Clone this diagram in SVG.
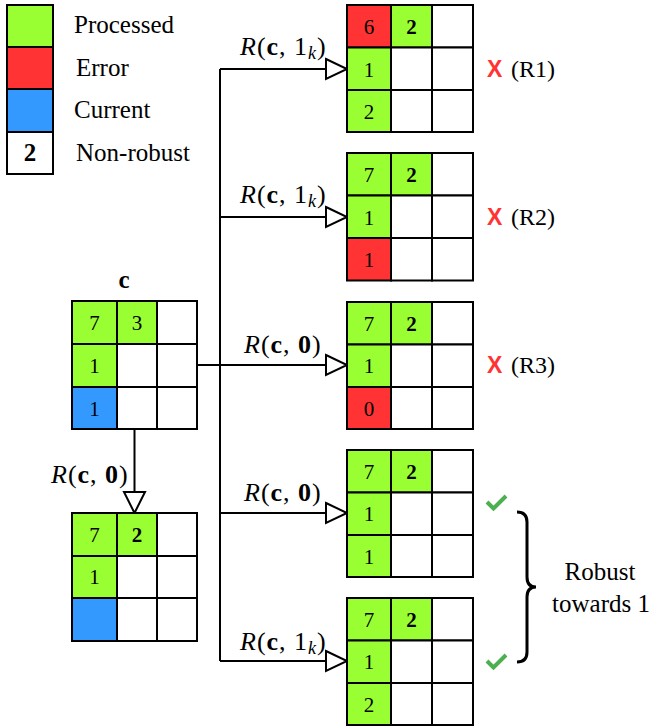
<svg xmlns="http://www.w3.org/2000/svg" width="652" height="726" viewBox="0 0 652 726">
<style>
.c{stroke:#000;stroke-width:2}
.g{fill:#99ff33}
.r{fill:#ff3333}
.b{fill:#3399ff}
.w{fill:#fff}
.t{font-family:'Liberation Serif','Times New Roman',serif;font-size:25px;fill:#000}
.s{font-family:'Liberation Serif','Times New Roman',serif;font-size:24px;fill:#000}
.n{font-family:'Liberation Serif','Times New Roman',serif;font-size:21px;fill:#000;text-anchor:middle}
.bd{font-weight:bold}
.m{font-family:'Liberation Serif','Times New Roman',serif;font-size:26px;fill:#000;letter-spacing:1px}
.ln{stroke:#000;stroke-width:2;fill:none}
.ah{fill:#fff;stroke:#000;stroke-width:2;stroke-linejoin:miter}
.x{font-family:'Liberation Sans',Arial,sans-serif;font-weight:bold;font-size:23px;fill:#ff3333}
.ck{stroke:#4caf50;stroke-width:4;fill:none;stroke-linecap:butt;stroke-linejoin:miter}
</style>

<g id="legend">
<rect class="c g" x="7" y="5" width="46" height="42"/>
<rect class="c r" x="7" y="47" width="46" height="42"/>
<rect class="c b" x="7" y="89" width="46" height="43"/>
<rect class="c w" x="7" y="132" width="46" height="42"/>
<text class="t bd" x="30" y="161" text-anchor="middle">2</text>
<text class="t" x="74" y="33">Processed</text>
<text class="t" x="76" y="76">Error</text>
<text class="t" x="74" y="118">Current</text>
<text class="t" x="76" y="161">Non-robust</text>
</g>

<g id="connectors">
<path class="ln" d="M197,365 H220"/>
<path class="ln" d="M220,69 V661"/>
<path class="ln" d="M220,69 H327"/>
<path class="ln" d="M220,217 H327"/>
<path class="ln" d="M220,365 H327"/>
<path class="ln" d="M220,513 H327"/>
<path class="ln" d="M220,661 H327"/>
<polygon class="ah" points="326,59 347,69 326,79"/>
<polygon class="ah" points="326,207 347,217 326,227"/>
<polygon class="ah" points="326,355 347,365 326,375"/>
<polygon class="ah" points="326,503 347,513 326,523"/>
<polygon class="ah" points="326,651 347,661 326,671"/>
<path class="ln" d="M134.5,429 V492"/>
<polygon class="ah" points="124,492 145,492 134.5,513"/>
<text class="m" x="240" y="55"><tspan font-style="italic">R</tspan>(<tspan font-weight="bold">c</tspan>, 1<tspan font-style="italic" font-size="18" dy="4">k</tspan><tspan dy="-4">)</tspan></text>
<text class="m" x="240" y="203"><tspan font-style="italic">R</tspan>(<tspan font-weight="bold">c</tspan>, 1<tspan font-style="italic" font-size="18" dy="4">k</tspan><tspan dy="-4">)</tspan></text>
<text class="m" x="244" y="353"><tspan font-style="italic">R</tspan>(<tspan font-weight="bold">c</tspan>, <tspan font-weight="bold">0</tspan>)</text>
<text class="m" x="244" y="501"><tspan font-style="italic">R</tspan>(<tspan font-weight="bold">c</tspan>, <tspan font-weight="bold">0</tspan>)</text>
<text class="m" x="240" y="650"><tspan font-style="italic">R</tspan>(<tspan font-weight="bold">c</tspan>, 1<tspan font-style="italic" font-size="18" dy="4">k</tspan><tspan dy="-4">)</tspan></text>
<text class="m" x="51" y="483"><tspan font-style="italic">R</tspan>(<tspan font-weight="bold">c</tspan>, <tspan font-weight="bold">0</tspan>)</text>
</g>

<g id="node-c">
<text class="t bd" x="124" y="288" text-anchor="middle">c</text>
<rect class="c g" x="72" y="301" width="45" height="43"/>
<rect class="c g" x="117" y="301" width="40" height="43"/>
<rect class="c w" x="157" y="301" width="40" height="43"/>
<rect class="c g" x="72" y="344" width="45" height="43"/>
<rect class="c w" x="117" y="344" width="40" height="43"/>
<rect class="c w" x="157" y="344" width="40" height="43"/>
<rect class="c b" x="72" y="387" width="45" height="42"/>
<rect class="c w" x="117" y="387" width="40" height="42"/>
<rect class="c w" x="157" y="387" width="40" height="42"/>
<text class="n" x="94.5" y="330">7</text>
<text class="n" x="137" y="330">3</text>
<text class="n" x="94.5" y="373">1</text>
<text class="n" x="94.5" y="416">1</text>
</g>

<g id="node-c0">
<rect class="c g" x="72" y="513" width="45" height="43"/>
<rect class="c g" x="117" y="513" width="40" height="43"/>
<rect class="c w" x="157" y="513" width="40" height="43"/>
<rect class="c g" x="72" y="556" width="45" height="42"/>
<rect class="c w" x="117" y="556" width="40" height="42"/>
<rect class="c w" x="157" y="556" width="40" height="42"/>
<rect class="c b" x="72" y="598" width="45" height="43"/>
<rect class="c w" x="117" y="598" width="40" height="43"/>
<rect class="c w" x="157" y="598" width="40" height="43"/>
<text class="n" x="94.5" y="542">7</text>
<text class="n bd" x="137" y="542">2</text>
<text class="n" x="94.5" y="584">1</text>
</g>

<g id="node-r1">
<rect class="c r" x="347" y="5" width="44" height="42.5"/>
<rect class="c g" x="391" y="5" width="41" height="42.5"/>
<rect class="c w" x="432" y="5" width="41" height="42.5"/>
<rect class="c g" x="347" y="47.5" width="44" height="42.5"/>
<rect class="c w" x="391" y="47.5" width="41" height="42.5"/>
<rect class="c w" x="432" y="47.5" width="41" height="42.5"/>
<rect class="c g" x="347" y="90" width="44" height="42"/>
<rect class="c w" x="391" y="90" width="41" height="42"/>
<rect class="c w" x="432" y="90" width="41" height="42"/>
<text class="n" x="369" y="34">6</text>
<text class="n bd" x="411.5" y="34">2</text>
<text class="n" x="369" y="77">1</text>
<text class="n" x="369" y="119">2</text>
</g>

<g id="node-r2">
<rect class="c g" x="347" y="153" width="44" height="42.5"/>
<rect class="c g" x="391" y="153" width="41" height="42.5"/>
<rect class="c w" x="432" y="153" width="41" height="42.5"/>
<rect class="c g" x="347" y="195.5" width="44" height="42.5"/>
<rect class="c w" x="391" y="195.5" width="41" height="42.5"/>
<rect class="c w" x="432" y="195.5" width="41" height="42.5"/>
<rect class="c r" x="347" y="238" width="44" height="42.5"/>
<rect class="c w" x="391" y="238" width="41" height="42.5"/>
<rect class="c w" x="432" y="238" width="41" height="42.5"/>
<text class="n" x="369" y="182">7</text>
<text class="n bd" x="411.5" y="182">2</text>
<text class="n" x="369" y="225">1</text>
<text class="n" x="369" y="267">1</text>
</g>

<g id="node-r3">
<rect class="c g" x="347" y="302" width="44" height="42.5"/>
<rect class="c g" x="391" y="302" width="41" height="42.5"/>
<rect class="c w" x="432" y="302" width="41" height="42.5"/>
<rect class="c g" x="347" y="344.5" width="44" height="42.5"/>
<rect class="c w" x="391" y="344.5" width="41" height="42.5"/>
<rect class="c w" x="432" y="344.5" width="41" height="42.5"/>
<rect class="c r" x="347" y="387" width="44" height="42"/>
<rect class="c w" x="391" y="387" width="41" height="42"/>
<rect class="c w" x="432" y="387" width="41" height="42"/>
<text class="n" x="369" y="331">7</text>
<text class="n bd" x="411.5" y="331">2</text>
<text class="n" x="369" y="373">1</text>
<text class="n" x="369" y="416">0</text>
</g>

<g id="node-r4">
<rect class="c g" x="347" y="450" width="44" height="42.5"/>
<rect class="c g" x="391" y="450" width="41" height="42.5"/>
<rect class="c w" x="432" y="450" width="41" height="42.5"/>
<rect class="c g" x="347" y="492.5" width="44" height="42.5"/>
<rect class="c w" x="391" y="492.5" width="41" height="42.5"/>
<rect class="c w" x="432" y="492.5" width="41" height="42.5"/>
<rect class="c g" x="347" y="535" width="44" height="42"/>
<rect class="c w" x="391" y="535" width="41" height="42"/>
<rect class="c w" x="432" y="535" width="41" height="42"/>
<text class="n" x="369" y="479">7</text>
<text class="n bd" x="411.5" y="479">2</text>
<text class="n" x="369" y="521">1</text>
<text class="n" x="369" y="564">1</text>
</g>

<g id="node-r5">
<rect class="c g" x="347" y="598" width="44" height="42.5"/>
<rect class="c g" x="391" y="598" width="41" height="42.5"/>
<rect class="c w" x="432" y="598" width="41" height="42.5"/>
<rect class="c g" x="347" y="640.5" width="44" height="42.5"/>
<rect class="c w" x="391" y="640.5" width="41" height="42.5"/>
<rect class="c w" x="432" y="640.5" width="41" height="42.5"/>
<rect class="c g" x="347" y="683" width="44" height="42"/>
<rect class="c w" x="391" y="683" width="41" height="42"/>
<rect class="c w" x="432" y="683" width="41" height="42"/>
<text class="n" x="369" y="627">7</text>
<text class="n bd" x="411.5" y="627">2</text>
<text class="n" x="369" y="669">1</text>
<text class="n" x="369" y="712">2</text>
</g>

<g id="annotations">
<text class="x" x="487" y="77">X</text>
<text class="s" x="511" y="77">(R1)</text>
<text class="x" x="487" y="225">X</text>
<text class="s" x="511" y="225">(R2)</text>
<text class="x" x="487" y="373">X</text>
<text class="s" x="511" y="373">(R3)</text>
<path class="ck" d="M487,502 L493.5,508.5 L506,496"/>
<path class="ck" d="M487,661 L493.5,667.5 L506,655"/>
<path d="M517,512 Q527,512 527,522 L527,577 Q527,587 536,587 Q527,587 527,597 L527,652 Q527,662 517,662" fill="none" stroke="#000" stroke-width="3"/>
<text class="t" x="600" y="580" text-anchor="middle">Robust</text>
<text class="t" x="601" y="612" text-anchor="middle">towards 1</text>
</g>
</svg>
